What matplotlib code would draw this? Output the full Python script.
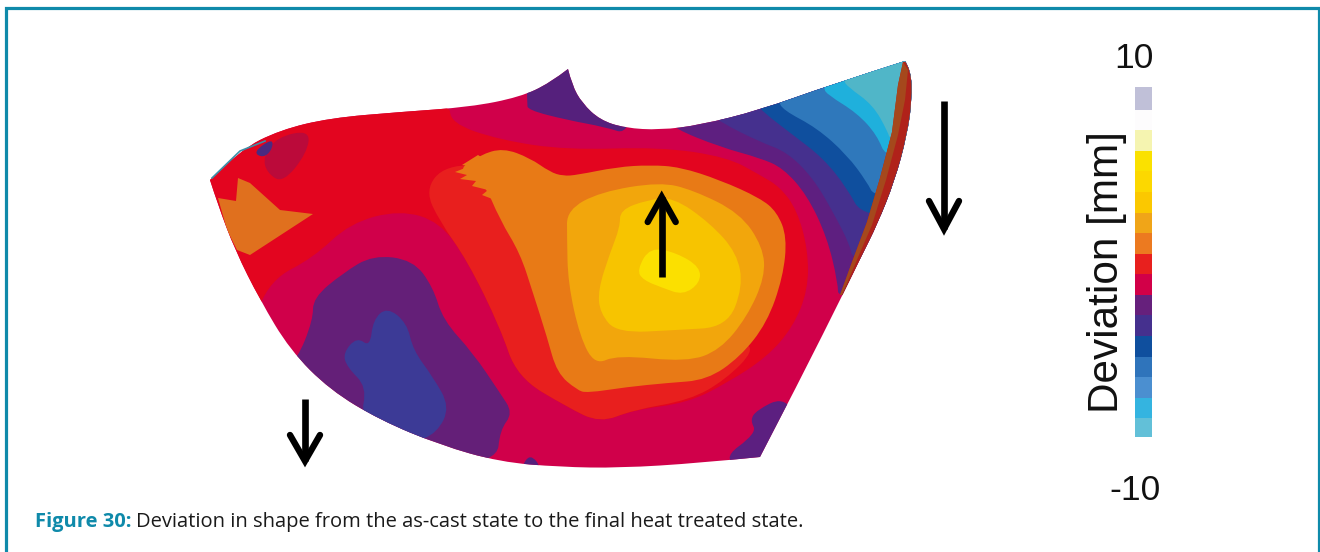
import matplotlib
matplotlib.use("Agg")
import matplotlib.pyplot as plt
from matplotlib.path import Path
from matplotlib.patches import PathPatch
from matplotlib.colors import ListedColormap, BoundaryNorm
from matplotlib.cm import ScalarMappable

W, H = 1320, 552

# casting outline, one list per edge (image pixels)
edge_top_left = [(210, 180), (240, 150), (280, 130), (330, 118), (400, 112), (470, 107),
                 (520, 97), (550, 83), (568, 69)]
edge_top_right = [(568, 69), (572, 85), (582, 103), (600, 120), (625, 128), (660, 130),
                  (700, 125), (760, 110), (830, 85), (905, 61)]
edge_right = [(905, 61), (911, 70), (912, 100), (907, 135), (895, 180), (877, 225),
              (862, 255), (845, 290), (800, 380), (760, 457)]
edge_bottom = [(760, 457), (700, 463), (620, 468), (560, 467), (500, 462), (440, 445),
               (380, 420), (330, 390), (290, 350), (260, 300), (235, 250), (218, 205), (210, 180)]

# deviation zones, painted from the outside in
zone_red = [(200, 100), (450, 100), (450, 123), (500, 140), (567, 150), (660, 147), (727, 157),
            (760, 175), (780, 187), (797, 210), (808, 250), (808, 290), (793, 327), (767, 357),
            (727, 383), (687, 403), (633, 410), (600, 423), (567, 407), (517, 377), (500, 327),
            (467, 260), (440, 222), (400, 210), (350, 223), (313, 258), (270, 280), (250, 330),
            (190, 340)]
zone_red_orange = [(445, 165), (500, 165), (560, 330), (600, 370), (740, 340), (755, 350),
                   (725, 380), (690, 400), (633, 410), (600, 423), (567, 407), (517, 377),
                   (500, 327), (467, 260), (440, 222), (425, 190)]
zone_orange = [(457, 170), (480, 155), (503, 148), (530, 158), (550, 172), (563, 176), (577, 175),
               (617, 167), (650, 165), (680, 167), (720, 180), (760, 198), (777, 212), (787, 237),
               (783, 277), (767, 323), (740, 357), (707, 380), (667, 383), (627, 387), (587, 393),
               (577, 390), (557, 373), (547, 337), (533, 293), (520, 253), (500, 220), (483, 180)]
teeth_orange = [(478, 155), (462, 165), (470, 166), (455, 172), (467, 175), (460, 179), (476, 181),
                (472, 186), (488, 190), (482, 195), (495, 200), (510, 175)]
zone_amber = [(567, 210), (600, 192), (660, 182), (693, 190), (740, 213), (763, 247), (765, 277),
              (747, 317), (720, 350), (687, 362), (617, 355), (595, 365), (580, 337), (568, 283),
              (567, 237)]
zone_gold = [(620, 210), (647, 200), (673, 197), (710, 223), (737, 253), (743, 287), (727, 327),
             (677, 330), (617, 333), (600, 313), (598, 290), (610, 253), (620, 227)]
zone_yellow = [(637, 270), (650, 247), (677, 253), (700, 267), (700, 283), (683, 295), (663, 288),
               (643, 280)]
zone_left_orange = [(218, 198), (236, 201), (238, 178), (250, 183), (280, 210), (313, 214),
                    (250, 255), (237, 250), (227, 230)]
zone_dark_crimson = [(263, 157), (277, 137), (310, 130), (307, 153), (283, 183), (267, 173)]
zone_left_purple = [(253, 152), (273, 138), (272, 150), (263, 158)]
zone_lobe_purple = [(297, 360), (313, 320), (313, 298), (343, 273), (373, 255), (413, 260),
                    (433, 287), (443, 320), (473, 353), (500, 393), (513, 413), (500, 430),
                    (497, 462), (410, 470), (300, 420), (280, 370)]
zone_lobe_blue = [(343, 353), (357, 337), (370, 347), (373, 320), (387, 307), (407, 323),
                  (413, 350), (433, 377), (450, 407), (437, 433), (413, 443), (360, 420),
                  (367, 387), (347, 367)]
zone_spike = [(527, 103), (528, 110), (567, 120), (605, 127), (630, 135), (640, 60), (527, 60)]
zone_bottom_purple = [(520, 470), (530, 453), (543, 470)]
zone_corner_purple = [(783, 397), (757, 410), (750, 420), (757, 433), (720, 460), (760, 475), (800, 420)]

# bands that run in from the top right corner
band_purple = [(673, 120), (673, 128), (720, 147), (760, 158), (783, 168), (807, 195), (827, 237),
               (838, 283), (838, 300), (960, 300), (960, 40), (673, 40)]
band_indigo = [(705, 110), (720, 122), (760, 142), (787, 152), (813, 178), (833, 212), (850, 245),
               (853, 262), (960, 262), (960, 40), (705, 40)]
band_navy = [(758, 105), (763, 112), (793, 135), (823, 158), (847, 188), (863, 218), (960, 218),
             (960, 40), (758, 40)]
band_blue = [(778, 100), (783, 110), (817, 128), (847, 155), (867, 182), (875, 198), (960, 198),
             (960, 40), (778, 40)]
band_cyan = [(823, 88), (828, 95), (857, 113), (877, 135), (887, 160), (960, 160), (960, 40), (823, 40)]
band_teal = [(843, 80), (848, 87), (873, 105), (888, 132), (890, 140), (960, 140), (960, 40), (843, 40)]
strip_red = [(903, 62), (898, 85), (892, 132), (880, 178), (867, 222), (852, 262), (840, 295),
             (850, 295), (880, 240), (920, 130), (915, 60)]
strip_brown = [(903, 62), (898, 85), (892, 132), (880, 178), (867, 222), (852, 262), (840, 295),
               (842, 295), (856, 262), (872, 225), (886, 180), (898, 135), (905, 100), (908, 70)]

# colour scale, top to bottom
scale_colors = ["#c0c0d8", "#fdfcfd", "#f5f4b0", "#fae100", "#fcd800", "#fbc800", "#f0a518",
                "#ec7a20", "#e8201e", "#d20048", "#66207c", "#45308e", "#0f4f9e", "#2f74bb",
                "#4b8fd0", "#34b4e0", "#62c0d8"]
scale_min, scale_max = -10, 10

TEAL = "#0f8aaa"


def smooth_codes(pts, closed):
    # quadratic segments through the midpoints, so zone edges are not polygonal
    if closed:
        mid = lambda a, b: ((a[0] + b[0]) / 2, (a[1] + b[1]) / 2)
        verts = [mid(pts[-1], pts[0])]
        codes = [Path.MOVETO]
        for i, p in enumerate(pts):
            verts += [p, mid(p, pts[(i + 1) % len(pts)])]
            codes += [Path.CURVE3, Path.CURVE3]
        return verts, codes
    verts = [pts[0]]
    codes = [Path.LINETO]
    for i in range(1, len(pts) - 1):
        end = pts[i + 1] if i == len(pts) - 2 else ((pts[i][0] + pts[i + 1][0]) / 2, (pts[i][1] + pts[i + 1][1]) / 2)
        verts += [pts[i], end]
        codes += [Path.CURVE3, Path.CURVE3]
    return verts, codes


def outline_path():
    verts, codes = [], []
    for edge in [edge_top_left, edge_top_right, edge_right, edge_bottom]:
        v, c = smooth_codes(edge, False)
        verts += v
        codes += c
    codes[0] = Path.MOVETO
    return Path(verts, codes)


fig = plt.figure(figsize=(W / 100, H / 100), dpi=100)
ax = fig.add_axes([0, 0, 1, 1])
ax.set_xlim(0, W)
ax.set_ylim(H, 0)
ax.axis("off")

# frame, open at the bottom
ax.plot([5.5, 5.5, 1318.5, 1318.5], [H, 7.5, 7.5, H], color=TEAL, lw=2.3, solid_joinstyle="miter")

outline = PathPatch(outline_path(), facecolor="#d0004a", edgecolor="none", zorder=2)
ax.add_patch(outline)

zones = [
    (zone_red, "#e3051f"), (zone_dark_crimson, "#bb0a3a"), (zone_left_purple, "#4a2a80"),
    (zone_red_orange, "#e81f1e"), (zone_orange, "#e87a16"), (zone_amber, "#f2a60c"),
    (zone_gold, "#f7c400"), (zone_yellow, "#fbe000"),
    (zone_lobe_purple, "#641f78"), (zone_lobe_blue, "#3c3a96"), (zone_spike, "#55207c"),
    (zone_bottom_purple, "#55207c"), (zone_corner_purple, "#5c1f80"),
    (band_purple, "#5e1f80"), (band_indigo, "#45308e"), (band_navy, "#0f4f9e"),
    (band_blue, "#2f78bb"), (band_cyan, "#1fb0dc"), (band_teal, "#50b6c8"),
]
for pts, col in zones:
    v, c = smooth_codes(pts, True)
    p = PathPatch(Path(v, c), facecolor=col, edgecolor="none", zorder=3)
    ax.add_patch(p)
    p.set_clip_path(outline)

# sharp shapes stay as plain polygons
sharp = [(zone_left_orange, "#e0701e"), (teeth_orange, "#e87a16"),
         (strip_red, "#b0221a"), (strip_brown, "#a5481c")]
for pts, col in sharp:
    p = ax.fill([x for x, y in pts], [y for x, y in pts], color=col, lw=0, zorder=4)[0]
    p.set_clip_path(outline)

# sliver along the upper left edge
ax.plot([212, 240, 265], [178, 151, 141], color="#3c8fa8", lw=1.2, zorder=5)


def arrow(x, y0, y1, half, wing_y):
    ax.plot([x, x], [y0, y1], color="black", lw=4.8, solid_capstyle="butt", zorder=6)
    ax.plot([x - half, x, x + half], [wing_y, y1, wing_y], color="black", lw=4.6,
            solid_joinstyle="miter", solid_capstyle="round", zorder=6)


arrow(661.7, 277, 197, 14, 222)
arrow(944, 101, 229, 15, 201)
arrow(305, 399, 461, 15, 435)

# colour scale
cax = fig.add_axes([1135 / W, 1 - 437 / H, 17 / W, 350 / H])
n = len(scale_colors)
bounds = [scale_min + (scale_max - scale_min) * i / n for i in range(n + 1)]
sm = ScalarMappable(norm=BoundaryNorm(bounds, n), cmap=ListedColormap(scale_colors[::-1]))
cb = fig.colorbar(sm, cax=cax)
cb.set_ticks([])
cb.ax.minorticks_off()
cb.ax.tick_params(which="both", length=0)
cb.outline.set_visible(False)
cb.solids.set_edgecolor("face")

arial = "Liberation Sans"
ax.text(1134, 58, "10", family=arial, fontsize=25.5, ha="center", va="center", color="#111111")
ax.text(1135, 491, "-10", family=arial, fontsize=25.5, ha="center", va="center", color="#111111")
ax.text(1107, 272, "Deviation [mm]", family=arial, fontsize=30.4, rotation=90,
        ha="center", va="center", color="#111111")

# caption, bold lead-in then regular text
lead = ax.text(35, 527, "Figure 30:", family="Open Sans", fontweight="bold", fontsize=14.5,
               color=TEAL, va="baseline")
fig.canvas.draw()
ext = lead.get_window_extent()
ax.text(ext.x1 + 5, 527, "Deviation in shape from the as-cast state to the final heat treated state.",
        family="Open Sans", fontsize=14.5, color="#1a1a1a", va="baseline")

fig.savefig("out.png", dpi=100)
